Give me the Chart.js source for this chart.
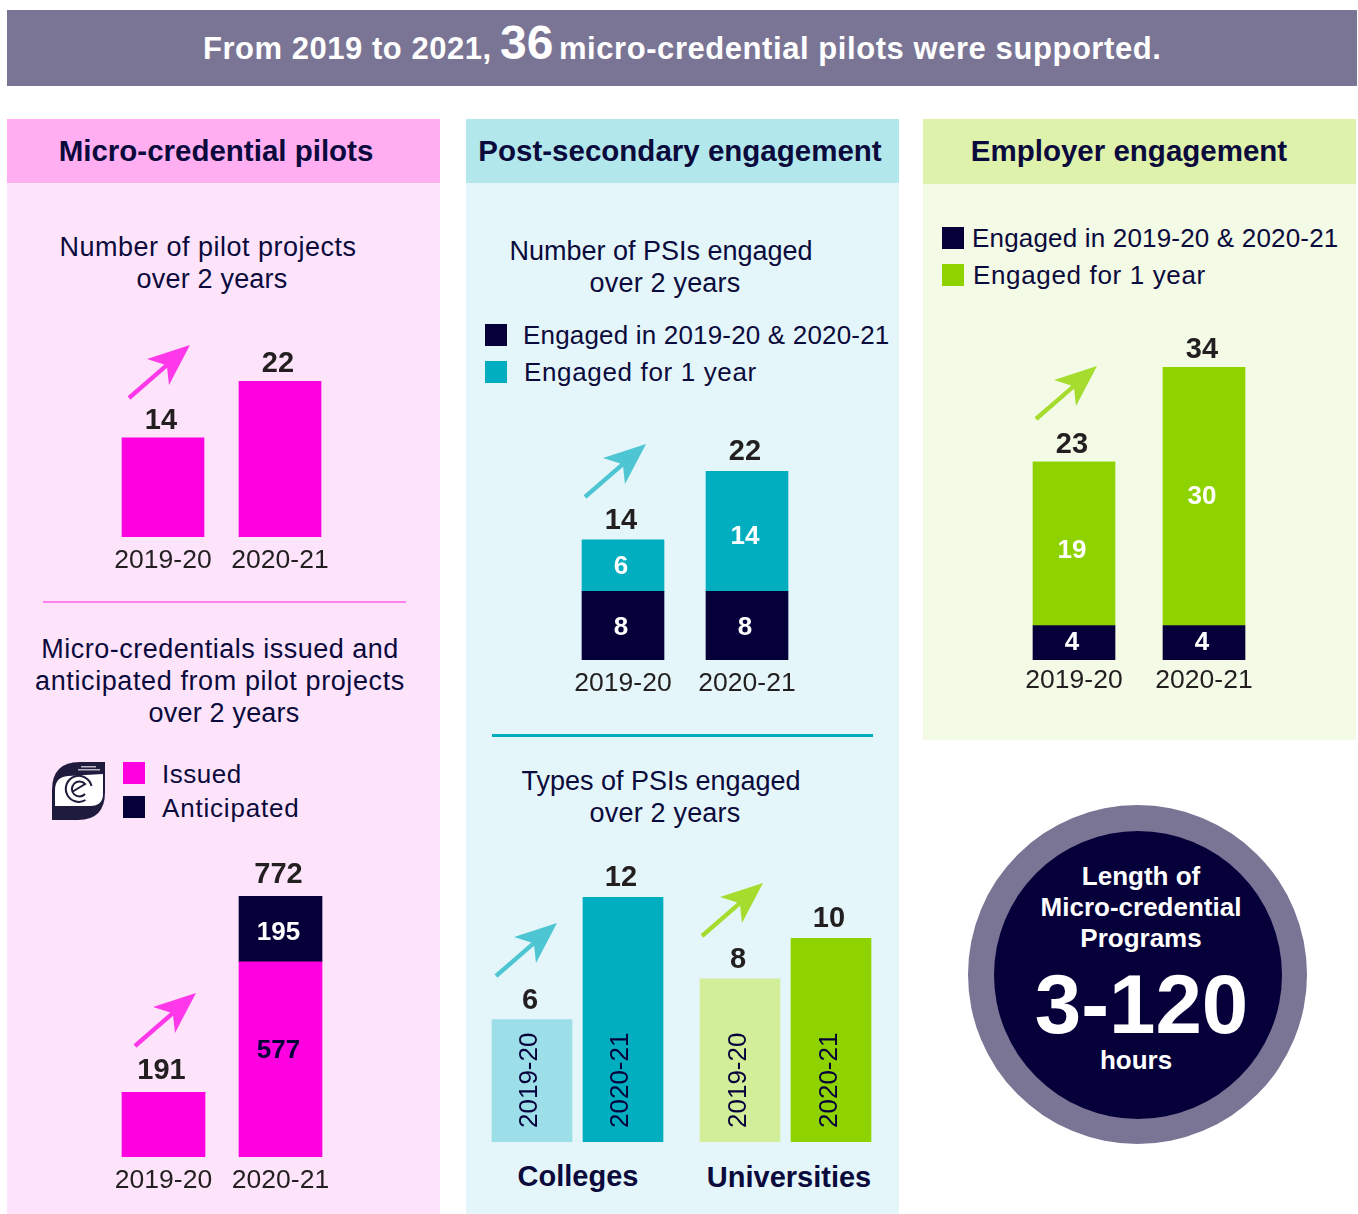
<!DOCTYPE html>
<html lang="en">
  <head>
    <meta charset="UTF-8" />
    <title>Micro-credential pilots</title>
    <script src="https://cdn.jsdelivr.net/npm/chart.js@4"></script>
    <style>
      html, body { margin: 0; background: #fff; }
      #page { position: relative; width: 1358px; height: 1214px; overflow: hidden;
        font-family: "Liberation Sans", Arial, sans-serif; color: #0b0a3c; }
      #page > div, #page > canvas, #page > svg { position: absolute; }
      .t { white-space: nowrap; font-size: 27px; line-height: 30px; transform: translate(-50%, -50%); }
      .l { white-space: nowrap; font-size: 26px; line-height: 30px; transform: translateY(-50%); }
      .h { font-weight: bold; font-size: 29.5px; }
      .w { color: #fff; font-weight: bold; }
      .c { font-size: 26px; }
    </style>
  </head>
  <body>
    <div id="page">
      <div style="left:7px;top:10px;width:1350px;height:76px;background:#7b7595"></div>
      <div class="l w" style="left:203px;top:49px;font-size:31px;letter-spacing:.53px">From 2019 to 2021,</div>
      <div class="l w" style="left:500px;top:43px;font-size:48px">36</div>
      <div class="l w" style="left:559px;top:49px;font-size:31px;letter-spacing:.56px">micro-credential pilots were supported.</div>

      <div style="left:7px;top:119px;width:433px;height:1095px;background:#fde4fb"></div>
      <div style="left:7px;top:119px;width:433px;height:64px;background:#ffaef2"></div>
      <div style="left:466px;top:119px;width:433px;height:1095px;background:#e4f6f9"></div>
      <div style="left:466px;top:119px;width:433px;height:64px;background:#b2e8ec"></div>
      <div style="left:923px;top:119px;width:433px;height:621px;background:#f3fae5"></div>
      <div style="left:923px;top:119px;width:433px;height:65px;background:#dff2ab"></div>

      <div class="t h" style="left:216px;top:151px">Micro-credential pilots</div>
      <div class="t h" style="left:680px;top:151px">Post-secondary engagement</div>
      <div class="t h" style="left:1129px;top:151px">Employer engagement</div>

      <div class="t" style="left:208px;top:247px;letter-spacing:.5px">Number of pilot projects</div>
      <div class="t" style="left:212px;top:279px;letter-spacing:.2px">over 2 years</div>
      <div style="left:43px;top:601px;width:363px;height:2px;background:#ff80ee"></div>
      <div class="t" style="left:220px;top:649px;letter-spacing:.5px">Micro-credentials issued and</div>
      <div class="t" style="left:220px;top:681px;letter-spacing:.6px">anticipated from pilot projects</div>
      <div class="t" style="left:224px;top:713px;letter-spacing:.2px">over 2 years</div>

      <svg style="left:52px;top:762px" width="53" height="58" viewBox="0 0 53 58">
        <path d="M53 0V30Q53 58 26 58H0V28Q0 0 28 0Z" fill="#1f1b3d" />
        <path d="M51 12V32Q51 44 38 44H3V28Q3 15 16 14Z" fill="#fff" />
        <path d="M33.5 38A13 13 0 1 1 39.5 24" fill="none" stroke="#1f1b3d" stroke-width="2" />
        <path d="M20 30L33 22A7.5 7.5 0 1 0 33 32" fill="none" stroke="#1f1b3d" stroke-width="2" />
        <rect x="29" y="4" width="15" height="1.5" fill="#b9b7c6" />
        <rect x="26" y="7" width="22" height="1.5" fill="#b9b7c6" />
      </svg>
      <div style="left:123px;top:762px;width:22px;height:22px;background:#ff00e0"></div>
      <div style="left:123px;top:796px;width:22px;height:22px;background:#05003a"></div>
      <div class="l" style="left:162px;top:774px;letter-spacing:.5px">Issued</div>
      <div class="l" style="left:162px;top:808px;letter-spacing:.8px">Anticipated</div>

      <div class="t" style="left:661px;top:251px">Number of PSIs engaged</div>
      <div class="t" style="left:665px;top:283px;letter-spacing:.2px">over 2 years</div>
      <div style="left:485px;top:324px;width:22px;height:22px;background:#05003a"></div>
      <div style="left:485px;top:361px;width:22px;height:22px;background:#00aec0"></div>
      <div class="l" style="left:523px;top:335px;letter-spacing:.18px">Engaged in 2019-20 &amp; 2020-21</div>
      <div class="l" style="left:524px;top:372px;letter-spacing:.65px">Engaged for 1 year</div>
      <div style="left:492px;top:734px;width:381px;height:3px;background:#00aec0"></div>
      <div class="t" style="left:661px;top:781px">Types of PSIs engaged</div>
      <div class="t" style="left:665px;top:813px;letter-spacing:.2px">over 2 years</div>
      <div class="t" style="left:578px;top:1176px;font-weight:bold;font-size:29px">Colleges</div>
      <div class="t" style="left:789px;top:1177px;font-weight:bold;font-size:29px">Universities</div>

      <div style="left:942px;top:227px;width:22px;height:22px;background:#05003a"></div>
      <div style="left:942px;top:264px;width:22px;height:22px;background:#8ed300"></div>
      <div class="l" style="left:972px;top:238px;letter-spacing:.18px">Engaged in 2019-20 &amp; 2020-21</div>
      <div class="l" style="left:973px;top:275px;letter-spacing:.65px">Engaged for 1 year</div>

      <div style="left:968px;top:805px;width:339px;height:339px;border-radius:50%;background:#7b7595"></div>
      <div style="left:993.5px;top:830.5px;width:288px;height:288px;border-radius:50%;background:#05003a"></div>
      <div class="t w c" style="left:1141px;top:876px">Length of</div>
      <div class="t w c" style="left:1141px;top:907px">Micro-credential</div>
      <div class="t w c" style="left:1141px;top:938px">Programs</div>
      <div class="t w" style="left:1141.5px;top:1004px;font-size:83.5px;line-height:90px">3-120</div>
      <div class="t w c" style="left:1136px;top:1060px">hours</div>

      <svg style="left:0;top:0;pointer-events:none" width="1358" height="1214">
        <defs>
          <polygon id="arrow" points="-1.4,-1.7 35.3,-33.6 18,-39 61,-53 40,-13 38.1,-30.2 1.4,1.7" />
        </defs>
        <use href="#arrow" x="129" y="398" fill="#ff38ea" />
        <use href="#arrow" x="135" y="1046" fill="#ff38ea" />
        <use href="#arrow" x="585" y="497" fill="#4dc5d2" />
        <use href="#arrow" x="496" y="976" fill="#4dc5d2" />
        <use href="#arrow" x="702" y="936" fill="#a5dc2e" />
        <use href="#arrow" x="1036" y="419" fill="#a5dc2e" />
      </svg>

      <canvas id="pilotChart"></canvas>
      <canvas id="issuedChart"></canvas>
      <canvas id="psiChart"></canvas>
      <canvas id="collegeChart"></canvas>
      <canvas id="universityChart"></canvas>
      <canvas id="employerChart"></canvas>
    </div>
    <script>
      const years = ["2019-20", "2020-21"];
      const pilotProjects = [14, 22];
      const issued = [191, 577];
      const anticipated = [0, 195];
      const psiBothYears = [8, 8];
      const psiOneYear = [6, 14];
      const colleges = [6, 12];
      const universities = [8, 10];
      const employerBothYears = [4, 4];
      const employerOneYear = [19, 30];

      const MAGENTA = "#ff00e0";
      const NAVY = "#05003a";
      const TEAL = "#00aec0";
      const GREEN = "#8ed300";
      const LIGHT_TEAL = "#9cdfe8";
      const LIGHT_GREEN = "#d2ee99";

      Chart.defaults.font.family = '"Liberation Sans", Arial, sans-serif';
      Chart.defaults.animation = false;

      // totals over the stacks, values inside the segments, rotated year labels
      const barText = {
        id: "barText",
        afterDatasetsDraw(chart, args, opts) {
          const c = chart.ctx;
          const sets = chart.data.datasets;
          c.save();
          chart.data.labels.forEach((label, i) => {
            const total = sets.reduce((sum, d) => sum + d.data[i], 0);
            const bar = chart.getDatasetMeta(0).data[i];
            c.font = "bold 29px " + Chart.defaults.font.family;
            c.fillStyle = "#231f20";
            c.textAlign = "center";
            c.textBaseline = "alphabetic";
            c.fillText(total, bar.x - 2, chart.scales.y.getPixelForValue(total) - opts.totalLift);

            sets.forEach((d, k) => {
              if (!d.showValue || !d.showValue[i]) return;
              const el = chart.getDatasetMeta(k).data[i];
              const nudge = d.valueNudge ? d.valueNudge[i] : 0;
              c.font = "bold 26px " + Chart.defaults.font.family;
              c.fillStyle = d.valueColor;
              c.textBaseline = "middle";
              c.fillText(d.data[i], el.x - 2, (el.y + el.base) / 2 + nudge);
            });

            if (opts.rotated) {
              c.save();
              c.translate(bar.x + opts.labelDx, chart.scales.y.getPixelForValue(0) - 14);
              c.rotate(-Math.PI / 2);
              c.font = "26px " + Chart.defaults.font.family;
              c.fillStyle = NAVY;
              c.textAlign = "left";
              c.textBaseline = "middle";
              c.fillText(label, 0, 0);
              c.restore();
            }
          });
          c.restore();
        },
      };

      // firstCenter/spacing: bar centres on the page, barTop/barBottom: top of the tallest stack
      function makeChart(id, box, datasets) {
        const above = 40;
        const below = 40;
        const offsetLeft = box.firstCenter - box.spacing / 2;
        const left = Math.floor(offsetLeft);
        const pad = offsetLeft - left;
        const canvas = document.getElementById(id);
        canvas.style.left = left + "px";
        canvas.style.top = box.barTop - above + "px";
        canvas.width = box.spacing * 2 + 2 * pad;
        canvas.height = box.barBottom - box.barTop + above + below;
        const maxValue = Math.max(...years.map((y, i) => datasets.reduce((s, d) => s + d.data[i], 0)));
        return new Chart(canvas, {
          type: "bar",
          plugins: [barText],
          data: { labels: years, datasets: datasets },
          options: {
            responsive: false,
            layout: { padding: { top: above, left: pad, right: pad, bottom: 0 } },
            datasets: { bar: { barThickness: box.thickness, stacked: true } },
            plugins: {
              legend: { display: false },
              tooltip: { enabled: false },
              barText: { rotated: !!box.rotated, totalLift: box.totalLift, labelDx: box.labelDx },
            },
            scales: {
              x: {
                stacked: true,
                grid: { display: false, drawTicks: false },
                border: { display: false },
                afterFit: (scale) => { scale.height = below; },
                ticks: {
                  display: !box.rotated,
                  color: "#231f20",
                  font: { size: 26.5 },
                  padding: box.tickPadding,
                  autoSkip: false,
                  maxRotation: 0,
                },
              },
              y: { stacked: true, display: false, min: 0, max: maxValue },
            },
          },
        });
      }

      window.onload = function () {
        makeChart("pilotChart", { firstCenter: 163, spacing: 117, thickness: 82, barTop: 381, barBottom: 537, tickPadding: 8, totalLift: 9 }, [
          { data: pilotProjects, backgroundColor: MAGENTA },
        ]);
        makeChart("issuedChart", { firstCenter: 163.5, spacing: 117, thickness: 83, barTop: 896, barBottom: 1157, tickPadding: 8, totalLift: 13 }, [
          { data: issued, backgroundColor: MAGENTA, showValue: [false, true], valueColor: NAVY, valueNudge: [0, -9] },
          { data: anticipated, backgroundColor: NAVY, showValue: [false, true], valueColor: "#fff", valueNudge: [0, 4] },
        ]);
        makeChart("psiChart", { firstCenter: 623, spacing: 124, thickness: 82, barTop: 471, barBottom: 660, tickPadding: 8, totalLift: 11 }, [
          { data: psiBothYears, backgroundColor: NAVY, showValue: [true, true], valueColor: "#fff", valueNudge: [2, 2] },
          { data: psiOneYear, backgroundColor: TEAL, showValue: [true, true], valueColor: "#fff", valueNudge: [1, 6] },
        ]);
        makeChart("collegeChart", { firstCenter: 532, spacing: 91, thickness: 80, barTop: 897, barBottom: 1142, rotated: true, totalLift: 11, labelDx: -2 }, [
          { data: colleges, backgroundColor: [LIGHT_TEAL, TEAL] },
        ]);
        makeChart("universityChart", { firstCenter: 740, spacing: 91, thickness: 80, barTop: 938, barBottom: 1142, rotated: true, totalLift: 11, labelDx: -1 }, [
          { data: universities, backgroundColor: [LIGHT_GREEN, GREEN] },
        ]);
        makeChart("employerChart", { firstCenter: 1074, spacing: 130, thickness: 82, barTop: 367, barBottom: 660, tickPadding: 5, totalLift: 9 }, [
          { data: employerBothYears, backgroundColor: NAVY, showValue: [true, true], valueColor: "#fff" },
          { data: employerOneYear, backgroundColor: GREEN, showValue: [true, true], valueColor: "#fff", valueNudge: [7, 1] },
        ]);
      };
    </script>
  </body>
</html>
